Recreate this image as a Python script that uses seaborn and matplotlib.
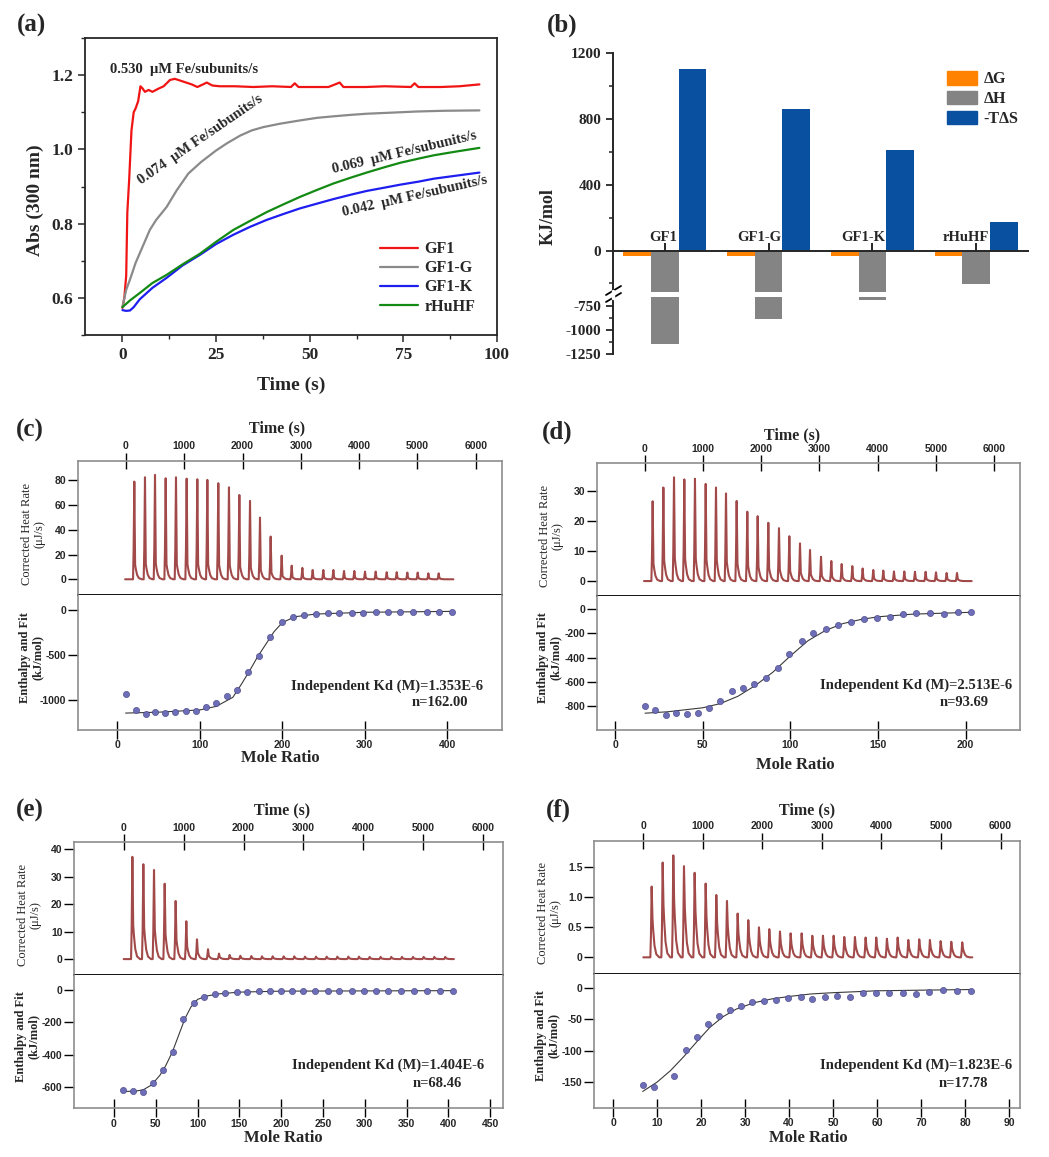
import matplotlib
matplotlib.use('Agg')
import matplotlib.pyplot as plt
from matplotlib.lines import Line2D
from matplotlib.patches import Patch
from matplotlib.ticker import MultipleLocator
import seaborn as sns
import pandas as pd

# ---------------- data ----------------
# (a) absorbance kinetics
gf1_t = [0, 0.5, 1.0, 1.3, 1.8, 2.4, 3.0, 3.5, 4.2, 4.8, 5.3, 6.0, 7.0, 8.0, 9.5, 11, 12.7, 14, 15.5,
         17, 18.5, 20, 21.5, 22.5, 24, 26, 30, 35, 40, 45, 46, 47, 55, 58, 59, 65, 70, 77, 78, 79, 85, 90, 95.3]
gf1_y = [0.573, 0.60, 0.66, 0.83, 0.92, 1.05, 1.10, 1.11, 1.13, 1.17, 1.165, 1.155, 1.16, 1.155, 1.163,
         1.17, 1.187, 1.19, 1.185, 1.18, 1.175, 1.168, 1.175, 1.18, 1.172, 1.17, 1.17, 1.168, 1.17, 1.168,
         1.178, 1.168, 1.168, 1.18, 1.168, 1.168, 1.17, 1.168, 1.178, 1.168, 1.168, 1.17, 1.175]
gf1g_t = [0, 1, 2, 3.5, 5, 7.3, 9, 11.8, 14.5, 17.6, 21, 25, 28, 31.4, 34.5, 37.6, 42, 47.4, 52, 56.3,
          61, 65.2, 72, 78.6, 86, 95.3]
gf1g_y = [0.575, 0.622, 0.649, 0.694, 0.729, 0.783, 0.81, 0.845, 0.89, 0.935, 0.966, 0.997, 1.017, 1.037,
          1.051, 1.06, 1.069, 1.078, 1.085, 1.089, 1.093, 1.096, 1.099, 1.102, 1.104, 1.105]
gf1k_t = [0, 1, 2, 3, 4.6, 8, 11.8, 16, 20.7, 25, 29.6, 34, 38.5, 43, 47.4, 52, 56.3, 61, 65.2, 70,
          74.2, 79, 83.1, 89, 95.3]
gf1k_y = [0.567, 0.565, 0.566, 0.575, 0.596, 0.627, 0.654, 0.687, 0.716, 0.745, 0.77, 0.791, 0.81, 0.826,
          0.841, 0.854, 0.866, 0.878, 0.888, 0.897, 0.905, 0.913, 0.921, 0.929, 0.9375]
rhuhf_t = [0, 2, 4.6, 8, 11.8, 16, 20.7, 25, 29.6, 34, 38.5, 43, 47.4, 52, 56.3, 61, 65.2, 70, 74.2, 79,
           83.1, 89, 95.3]
rhuhf_y = [0.575, 0.593, 0.613, 0.64, 0.662, 0.69, 0.719, 0.751, 0.783, 0.807, 0.831, 0.852, 0.872, 0.891,
           0.908, 0.924, 0.9375, 0.952, 0.964, 0.975, 0.984, 0.994, 1.004]
kin_names = ['GF1', 'GF1-G', 'GF1-K', 'rHuHF']
kin_colors = ['#f01414', '#8a8a8a', '#1e1ef0', '#138a13']

# (b) thermodynamic parameters (kJ/mol)
samples = ['GF1', 'GF1-G', 'GF1-K', 'rHuHF']
dG = [-33, -30, -32, -32]
dH = [-1144, -890, -690, -204]
mTdS = [1105, 860, 612, 172]
terms = ['ΔG', 'ΔH', '-TΔS']
term_colors = ['#ff8300', '#848484', '#0a50a0']

# (c) GF1 ITC
c_peak_t = [143, 326, 498, 681, 858, 1041, 1224, 1396, 1584, 1767, 1945, 2128, 2299, 2482, 2671, 2843,
            3026, 3203, 3386, 3558, 3741, 3918, 4101, 4284, 4473, 4645, 4827, 5005, 5188, 5365]
c_peak_h = [78.9, 82.4, 84.3, 81.6, 82.4, 81.3, 80.8, 80.3, 77.6, 74.3, 68.1, 63.3, 49.8, 34.5, 19.1, 11.0,
            9.2, 7.5, 7.5, 7.5, 6.7, 6.7, 6.2, 6.2, 5.7, 5.7, 5.4, 5.4, 4.8, 4.8]
c_mr = [10.5, 22.2, 34.3, 45.7, 58.2, 69.9, 82.8, 94.9, 107.0, 119.6, 132.5, 145.5, 158.8, 171.3, 185.0,
        199.2, 212.5, 226.7, 240.4, 255.0, 269.0, 284.0, 298.0, 313.5, 327.7, 342.6, 358.8, 375.0, 390.3, 406.0]
c_dh = [-933, -1111, -1159, -1137, -1148, -1130, -1119, -1119, -1074, -1037, -956, -889, -693, -507, -296,
        -130, -74, -56, -44, -37, -37, -30, -30, -26, -19, -19, -19, -19, -19, -22]
c_fit_x = [10, 50, 100, 120, 140, 150, 160, 170, 180, 190, 200, 215, 240, 300, 406]
c_fit_y = [-1145, -1135, -1110, -1070, -970, -830, -680, -520, -380, -240, -140, -75, -45, -25, -15]

# (d) GF1-G ITC
d_peak_t = [137, 321, 504, 681, 864, 1048, 1225, 1397, 1580, 1763, 1941, 2124, 2307, 2485, 2668, 2840,
            3029, 3206, 3384, 3567, 3744, 3927, 4099, 4282, 4460, 4643, 4826, 5004, 5187, 5365]
d_peak_h = [26.7, 31.3, 34.7, 34.0, 34.2, 32.5, 31.3, 29.3, 26.8, 23.2, 21.7, 19.5, 17.7, 15.0, 12.6, 10.4,
            8.1, 6.7, 5.7, 5.0, 4.2, 3.7, 3.5, 3.2, 3.2, 3.1, 3.1, 2.9, 2.7, 2.7]
d_mr = [17.0, 22.9, 28.8, 34.9, 41.1, 47.4, 53.3, 59.8, 66.5, 73.1, 78.9, 85.9, 92.6, 99.4, 106.5, 113.1,
        120.4, 127.4, 134.5, 141.7, 149.3, 157.0, 164.2, 171.8, 179.4, 187.4, 195.4, 203.0]
d_dh = [-797, -833, -874, -861, -866, -855, -814, -756, -676, -654, -618, -566, -483, -367, -265, -193,
        -163, -132, -105, -83, -74, -61, -41, -33, -33, -39, -25, -25]
d_fit_x = [17, 30, 50, 60, 70, 80, 90, 100, 110, 120, 130, 140, 150, 170, 203]
d_fit_y = [-860, -848, -815, -780, -720, -630, -520, -385, -260, -175, -118, -85, -62, -40, -25]

# (e) GF1-K ITC
e_peak_t = [145, 328, 506, 684, 867, 1045, 1223, 1407, 1590, 1768, 1946, 2130, 2308, 2486, 2669, 2847,
            3025, 3209, 3387, 3565, 3748, 3926, 4104, 4287, 4465, 4643, 4827, 5005, 5183, 5366]
e_peak_h = [37.3, 34.6, 32.5, 27.5, 21.2, 13.8, 7.2, 3.6, 2.0, 1.5, 1.2, 1.1, 1.0, 1.0, 1.0, 1.0, 0.9,
            0.9, 0.9, 0.9, 0.9, 0.9, 0.8, 0.8, 0.8, 0.8, 0.8, 0.8, 0.8, 0.8]
e_mr = [11.2, 23.1, 35.1, 47.1, 59.0, 71.0, 83.0, 95.7, 108.1, 120.8, 133.2, 146.8, 159.5, 173.1, 186.6,
        199.8, 213.4, 226.5, 240.9, 255.6, 269.6, 284.3, 299.1, 313.5, 328.2, 343.4, 358.9, 374.9, 390.0, 406.0]
e_dh = [-616, -620, -629, -575, -493, -380, -181, -78, -45, -27, -16, -12, -12, -8, -8, -8, -8, -8, -8,
        -6, -6, -6, -6, -6, -6, -6, -6, -6, -6, -6]
e_fit_x = [11, 25, 35, 45, 55, 62, 70, 78, 85, 92, 100, 110, 125, 150, 200, 406]
e_fit_y = [-625, -624, -615, -585, -525, -465, -380, -270, -175, -105, -58, -38, -24, -13, -7, -4]

# (f) rHuHF ITC
f_peak_t = [140, 325, 504, 683, 862, 1047, 1226, 1405, 1584, 1763, 1942, 2116, 2295, 2474, 2659, 2838,
            3017, 3196, 3375, 3554, 3733, 3912, 4091, 4271, 4450, 4634, 4813, 4993, 5172, 5356]
f_peak_h = [1.18, 1.58, 1.70, 1.52, 1.41, 1.23, 1.04, 0.94, 0.73, 0.62, 0.50, 0.47, 0.43, 0.40, 0.40, 0.36,
            0.36, 0.36, 0.34, 0.34, 0.33, 0.33, 0.31, 0.33, 0.29, 0.30, 0.29, 0.27, 0.26, 0.25]
f_mr = [6.67, 9.25, 13.9, 16.45, 19.1, 21.6, 24.1, 26.5, 29.1, 31.6, 34.3, 37.0, 39.7, 42.6, 45.3, 48.1,
        50.9, 53.9, 56.9, 59.7, 62.7, 65.8, 68.8, 71.7, 74.9, 78.1, 81.3]
f_dh = [-155, -158, -140, -98.6, -78.4, -58.3, -44.5, -35, -28.6, -22.8, -21.2, -19.1, -16.4, -14.3, -18,
        -14.3, -12.7, -14.3, -8, -9, -8, -8, -9.5, -6.9, -3.7, -4.8, -4.8]
f_fit_x = [6.7, 10, 13, 16, 19, 22, 25, 28, 32, 36, 40, 45, 50, 60, 70, 81.3]
f_fit_y = [-165, -150, -132, -110, -86, -63, -46, -34, -24, -18, -14, -10, -8, -5, -4, -3]

# ---------------- figure ----------------
sns.set_style('ticks')
plt.rcParams['font.family'] = ['Liberation Serif', 'DejaVu Serif']
plt.rcParams['font.weight'] = 'bold'
plt.rcParams['axes.labelweight'] = 'bold'
plt.rcParams['axes.unicode_minus'] = False

W, H = 1049, 1157
fig = plt.figure(figsize=(W / 100, H / 100), dpi=100)


def px_axes(l, t, r, b):
    return fig.add_axes([l / W, 1 - b / H, (r - l) / W, (b - t) / H])


def px_text(x, y, s, **kw):
    kw.setdefault('ha', 'center')
    kw.setdefault('va', 'center')
    fig.text(x / W, 1 - y / H, s, **kw)


# ----- (a) -----
ax = px_axes(85, 38, 497, 335)
series = [(gf1_t, gf1_y), (gf1g_t, gf1g_y), (gf1k_t, gf1k_y), (rhuhf_t, rhuhf_y)]
for (t, y), name, col in zip(series, kin_names, kin_colors):
    sns.lineplot(x=t, y=y, ax=ax, color=col, lw=1.6, sort=False)
ax.set_xlim(-10, 100)
ax.set_ylim(0.5, 1.3)
ax.set_xticks([0, 25, 50, 75, 100])
ax.set_yticks([0.6, 0.8, 1.0, 1.2])
ax.xaxis.set_minor_locator(MultipleLocator(12.5))
ax.yaxis.set_minor_locator(MultipleLocator(0.1))
ax.tick_params(which='major', direction='out', length=5, width=1.1, labelsize=12.5)
ax.tick_params(which='minor', direction='out', length=3, width=1.0)
for s in ax.spines.values():
    s.set_linewidth(1.3)
ax.set_xlabel('')
ax.set_ylabel('')
ax.text(-3.4, 1.207, '0.530  μM Fe/subunits/s', fontsize=10.5)
ax.text(4.9, 0.905, '0.074  μM Fe/subunits/s', fontsize=10.5, rotation=34.5, rotation_mode='anchor')
ax.text(56.3, 0.937, '0.069  μM Fe/subunits/s', fontsize=10.5, rotation=13.4, rotation_mode='anchor')
ax.text(59.0, 0.82, '0.042  μM Fe/subunits/s', fontsize=10.5, rotation=12.8, rotation_mode='anchor')
handles = [Line2D([], [], color=c, lw=1.6) for c in kin_colors]
ax.legend(handles, kin_names, loc='lower left', bbox_to_anchor=(0.68, 0.02), frameon=False,
          fontsize=11.5, handlelength=2.4, labelspacing=0.2, handletextpad=0.4)
px_text(35, 200, 'Abs (300 nm)', rotation=90, fontsize=14)
px_text(291, 385, 'Time (s)', fontsize=14)
px_text(32, 25, '(a)', fontsize=18)

# ----- (b) -----
thermo = pd.DataFrame({'sample': samples * 3,
                       'term': [terms[0]] * 4 + [terms[1]] * 4 + [terms[2]] * 4,
                       'value': dG + dH + mTdS})
axu = px_axes(613, 53.3, 1028, 291.7)
axl = px_axes(613, 297, 1028, 354.3)
for a in (axu, axl):
    sns.barplot(data=thermo, x='sample', y='value', hue='term', hue_order=terms, palette=term_colors,
                saturation=1, errorbar=None, legend=False, ax=a, linewidth=0)
    a.set_xlim(-0.5, 3.5)
    a.set_xlabel('')
    a.set_ylabel('')
    a.spines['top'].set_visible(False)
    a.spines['right'].set_visible(False)
    a.spines['left'].set_linewidth(1.4)
    a.tick_params(axis='y', which='major', direction='out', length=5, width=1.3, labelsize=11)
    a.tick_params(axis='y', which='minor', direction='out', length=3, width=1.1)

axu.set_ylim(-250, 1200)
axu.set_yticks([0, 400, 800, 1200])
axu.yaxis.set_minor_locator(MultipleLocator(200))
axu.spines['bottom'].set_position(('data', 0))
axu.spines['bottom'].set_linewidth(1.4)
axu.set_xticks([0, 1, 2, 3])
axu.tick_params(axis='x', direction='inout', length=11, width=1.4, labelbottom=False)
for i, name in enumerate(samples):
    axu.text(i + 0.12, 42, name, ha='right', va='bottom', fontsize=10.5)

axl.set_ylim(-1250, -660)
axl.set_yticks([-1250, -1000, -750])
axl.yaxis.set_minor_locator(MultipleLocator(125))
axl.spines['bottom'].set_visible(False)
axl.set_xticks([])

for y0 in (295, 302):
    fig.add_artist(Line2D([606 / W, 621 / W], [1 - y0 / H, 1 - (y0 - 9) / H], color='black', lw=1.3))
fig.add_artist(Line2D([613 / W, 613 / W], [1 - 291 / H, 1 - 297.5 / H], color='white', lw=2.5))

bh = [Patch(color=c) for c in term_colors]
axu.legend(bh, terms, loc='upper left', bbox_to_anchor=(0.77, 0.985), frameon=False, fontsize=11.5,
           handlelength=1.9, handleheight=0.9, labelspacing=0.22, handletextpad=0.4)
px_text(548, 217, 'KJ/mol', rotation=90, fontsize=13)
px_text(562, 25, '(b)', fontsize=18)

# ----- ITC panels -----
itc = [
    dict(tag='(c)', tag_xy=(30, 430), frame=(78.3, 460.7, 501.7, 595, 730),
         tlim=(-818, 6446), tylim=(-12.7, 95.8), tyticks=[0, 20, 40, 60, 80], tylabels=None,
         pt=c_peak_t, ph=c_peak_h, trange=(-15, 5617), shoulder=0.15,
         mlim=(-47.3, 465.9), mylim=(-1333, 167), myticks=[-1000, -500, 0], mxticks=list(range(0, 401, 100)),
         mr=c_mr, dh=c_dh, fx=c_fit_x, fy=c_fit_y, kd='Independent Kd (M)=1.353E-6', n='n=162.00',
         kd_xy=(483.3, 686), n_xy=(468.3, 703), time_xy=(276.7, 428), mole_xy=(280, 758.3)),
    dict(tag='(d)', tag_xy=(557, 432), frame=(596.7, 463.3, 1020, 596, 730),
         tlim=(-824, 6447), tylim=(-5, 39.4), tyticks=[0, 10, 20, 30], tylabels=None,
         pt=d_peak_t, ph=d_peak_h, trange=(-11, 5617), shoulder=0.22,
         mlim=(-10.6, 231), mylim=(-999, 110), myticks=[-800, -600, -400, -200, 0], mxticks=list(range(0, 201, 50)),
         mr=d_mr, dh=d_dh, fx=d_fit_x, fy=d_fit_y, kd='Independent Kd (M)=2.513E-6', n='n=93.69',
         kd_xy=(1011.7, 685), n_xy=(988.3, 702.7), time_xy=(791.7, 435), mole_xy=(795, 765)),
    dict(tag='(e)', tag_xy=(30, 810), frame=(74.3, 842.3, 503.3, 975, 1108.3),
         tlim=(-824, 6334), tylim=(-5.8, 42.6), tyticks=[0, 10, 20, 30, 40], tylabels=None,
         pt=e_peak_t, ph=e_peak_h, trange=(0, 5510), shoulder=0.33,
         mlim=(-47.5, 465.8), mylim=(-729, 92.5), myticks=[-600, -400, -200, 0], mxticks=list(range(0, 451, 50)),
         mr=e_mr, dh=e_dh, fx=e_fit_x, fy=e_fit_y, kd='Independent Kd (M)=1.404E-6', n='n=68.46',
         kd_xy=(484, 1065), n_xy=(461.7, 1083.3), time_xy=(281.7, 810), mole_xy=(283.3, 1138.3)),
    dict(tag='(f)', tag_xy=(558, 810), frame=(594.3, 841, 1020, 974, 1107.7),
         tlim=(-823, 6326), tylim=(-0.278, 1.94), tyticks=[0, 0.5, 1.0, 1.5], tylabels=['0', '0.5', '1.0', '1.5'],
         pt=f_peak_t, ph=f_peak_h, trange=(0, 5525), shoulder=0.55,
         mlim=(-4.3, 92.5), mylim=(-190.8, 21.7), myticks=[-150, -100, -50, 0], mxticks=list(range(0, 91, 10)),
         mr=f_mr, dh=f_dh, fx=f_fit_x, fy=f_fit_y, kd='Independent Kd (M)=1.823E-6', n='n=17.78',
         kd_xy=(1011.7, 1065), n_xy=(988.3, 1083.3), time_xy=(806.7, 810), mole_xy=(808.3, 1138.3)),
]

frame_col = '#8e8e8e'
sans = ['Liberation Sans', 'DejaVu Sans']

for p in itc:
    l, t, r, m, b = p['frame']
    at = px_axes(l, t, r, m)
    ab = px_axes(l, m, r, b)

    # thermogram: each injection drawn with the same peak profile
    s = p['shoulder']
    prof_dt = [-22, -12, 0, 14, 26, 48, 78, 128]
    prof_fr = [0, 0.3, 1.0, s, 0.7 * s, 0.3 * s, 0.08 * s, 0]
    tx, ty = [p['trange'][0]], [0]
    for tp, hp in zip(p['pt'], p['ph']):
        for dt, fr in zip(prof_dt, prof_fr):
            tx.append(tp + dt)
            ty.append(hp * fr)
    tx.append(p['trange'][1])
    ty.append(0)
    sns.lineplot(x=tx, y=ty, ax=at, color='#a24a4a', lw=1.5, sort=False)

    sns.lineplot(x=p['fx'], y=p['fy'], ax=ab, color='#3a3a3a', lw=0.8, sort=False)
    sns.scatterplot(x=p['mr'], y=p['dh'], ax=ab, s=20, color='#6d6db8', edgecolor='#40407f',
                    linewidth=0.4, zorder=3)

    at.set_xlim(*p['tlim'])
    at.set_ylim(*p['tylim'])
    at.set_xticks(range(0, 6001, 1000))
    at.set_yticks(p['tyticks'])
    if p['tylabels']:
        at.set_yticklabels(p['tylabels'])
    at.xaxis.tick_top()
    at.tick_params(axis='x', direction='inout', length=12, width=1, color='black', labelsize=7.5, pad=1)
    at.tick_params(axis='y', direction='out', length=7, width=1, color='black', labelsize=7.5, pad=1.5)

    ab.set_xlim(*p['mlim'])
    ab.set_ylim(*p['mylim'])
    ab.set_xticks(p['mxticks'])
    ab.set_yticks(p['myticks'])
    ab.tick_params(axis='x', direction='inout', length=13, width=1, color='black', labelsize=7.5, pad=1)
    ab.tick_params(axis='y', direction='out', length=7, width=1, color='black', labelsize=7.5, pad=1.5)

    for a in (at, ab):
        a.set_xlabel('')
        a.set_ylabel('')
        plt.setp(a.get_xticklabels() + a.get_yticklabels(), family=sans, weight='bold')
        for sp in a.spines.values():
            sp.set_color(frame_col)
            sp.set_linewidth(1.2)
    at.spines['bottom'].set_color('black')
    at.spines['bottom'].set_linewidth(1.3)
    ab.spines['top'].set_visible(False)

    px_text(l - 45, (t + m) / 2 + 6, 'Corrected Heat Rate\n(μJ/s)', rotation=90, fontsize=9,
            weight='normal', linespacing=1.05)
    px_text(l - 47, (m + b) / 2 - 5, 'Enthalpy and Fit\n(kJ/mol)', rotation=90, fontsize=9,
            linespacing=1.05)
    px_text(*p['kd_xy'], p['kd'], ha='right', fontsize=10.5)
    px_text(*p['n_xy'], p['n'], ha='right', fontsize=10.5)
    px_text(*p['time_xy'], 'Time (s)', fontsize=11.5)
    px_text(*p['mole_xy'], 'Mole Ratio', fontsize=12)
    px_text(*p['tag_xy'], p['tag'], fontsize=18)

fig.savefig('out.png', dpi=100)
